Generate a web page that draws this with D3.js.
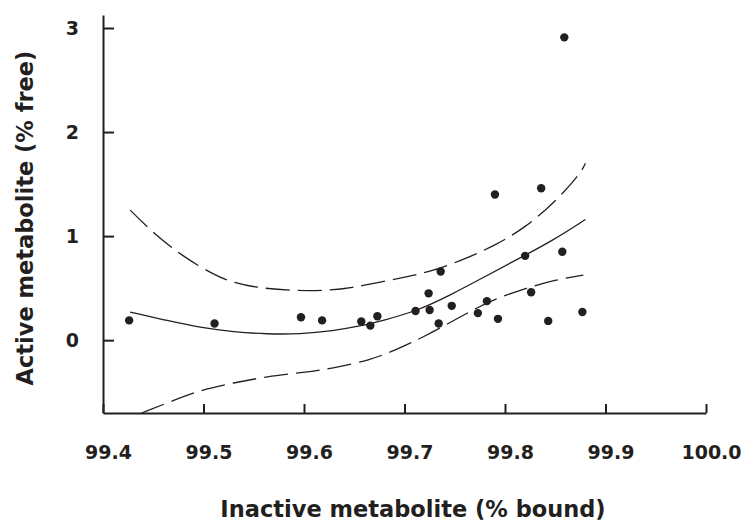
<!DOCTYPE html>
<html>
<head>
<meta charset="utf-8">
<script src="https://cdn.jsdelivr.net/npm/d3@7"></script>
<style>
    body { margin: 0; background: #fff; }
    text { font-family: "DejaVu Sans", sans-serif; font-weight: bold; fill: #231f20; }
</style>
</head>
<body>
<div id="container"><svg></svg></div>
<script>
let width = 741, height = 524;

// scatter points: inactive metabolite (% bound) vs active metabolite (% free)
let pointX = [99.426, 99.511, 99.597, 99.618, 99.657, 99.666, 99.673, 99.711, 99.724, 99.725, 99.734, 99.736,
              99.747, 99.773, 99.782, 99.793, 99.790, 99.820, 99.826, 99.836, 99.843, 99.857, 99.859, 99.877];
let pointY = [0.19, 0.16, 0.22, 0.19, 0.18, 0.14, 0.23, 0.28, 0.45, 0.29, 0.16, 0.66,
              0.33, 0.26, 0.375, 0.205, 1.40, 0.81, 0.46, 1.46, 0.185, 0.85, 2.91, 0.27];

// fitted curve and the two dashed bands
let fitX = [99.427, 99.463, 99.497, 99.53, 99.563, 99.596, 99.629, 99.656, 99.679, 99.712, 99.745, 99.778, 99.811, 99.848, 99.88];
let fitY = [0.27, 0.19, 0.12, 0.08, 0.058, 0.058, 0.09, 0.135, 0.19, 0.28, 0.43, 0.60, 0.77, 0.96, 1.16];

let upperX = [99.427, 99.45, 99.48, 99.51, 99.53, 99.556, 99.59, 99.62, 99.646, 99.685, 99.724, 99.759, 99.79, 99.82, 99.85, 99.875, 99.88];
let upperY = [1.25, 1.03, 0.80, 0.63, 0.55, 0.50, 0.475, 0.475, 0.50, 0.575, 0.65, 0.775, 0.91, 1.08, 1.33, 1.60, 1.70];

let lowerX = [99.4385, 99.47, 99.4965, 99.53, 99.563, 99.60, 99.629, 99.666, 99.69, 99.719, 99.755, 99.785, 99.821, 99.85, 99.878];
let lowerY = [-0.70, -0.58, -0.48, -0.41, -0.35, -0.31, -0.27, -0.19, -0.10, 0.03, 0.22, 0.38, 0.50, 0.58, 0.625];

let xTicks = [99.4, 99.5, 99.6, 99.7, 99.8, 99.9, 100.0];
let yTicks = [0, 1, 2, 3];

let xTitle = 'Inactive metabolite (% bound)';
let yTitle = 'Active metabolite (% free)';

let ink = '#231f20';

function zip(xs, ys) {
    return xs.map((d, i) => [d, ys[i]]);
}

function draw_chart() {
    let svg = d3.select('#container').select('svg')
        .attr('width', width)
        .attr('height', height);

    let x = d3.scaleLinear().domain([99.4, 100.0]).range([103, 706]);
    let y = d3.scaleLinear().domain([-0.7, 3.125]).range([413, 15]);

    // axes
    let xAxis = svg.append('g')
        .attr('transform', 'translate(0,' + y(-0.7) + ')')
        .call(d3.axisBottom(x).tickValues(xTicks).tickFormat(d3.format('.1f'))
            .tickSizeInner(-9).tickSizeOuter(0).tickPadding(33));
    let yAxis = svg.append('g')
        .attr('transform', 'translate(' + x(99.4) + ',0)')
        .call(d3.axisLeft(y).tickValues(yTicks).tickFormat(d3.format('d'))
            .tickSizeInner(-11).tickSizeOuter(0).tickPadding(24));

    [xAxis, yAxis].forEach(a => {
        a.select('.domain').attr('stroke', ink).attr('stroke-width', 2);
        a.selectAll('.tick line').attr('stroke', ink).attr('stroke-width', 2);
        a.selectAll('.tick text')
            .attr('fill', ink)
            .style('font-size', '19px')
            .style('font-family', '"DejaVu Sans", sans-serif')
            .style('font-weight', 'bold');
    });
    xAxis.selectAll('.tick text').attr('dx', 5);

    // curves
    let line = d3.line()
        .x(d => x(d[0]))
        .y(d => y(d[1]))
        .curve(d3.curveBasis);

    svg.append('path')
        .attr('d', line(zip(fitX, fitY)))
        .attr('fill', 'none')
        .attr('stroke', ink)
        .attr('stroke-width', 1.3);

    svg.append('g')
        .selectAll('path')
        .data([zip(upperX, upperY), zip(lowerX, lowerY)])
        .join('path')
        .attr('d', line)
        .attr('fill', 'none')
        .attr('stroke', ink)
        .attr('stroke-width', 1.3)
        .attr('stroke-dasharray', '24,8');

    // points
    svg.append('g')
        .selectAll('circle')
        .data(zip(pointX, pointY))
        .join('circle')
        .attr('cx', d => x(d[0]))
        .attr('cy', d => y(d[1]))
        .attr('r', 4.2)
        .attr('fill', ink);

    // titles
    svg.append('text')
        .attr('x', 413)
        .attr('y', 517)
        .attr('text-anchor', 'middle')
        .style('font-size', '22.5px')
        .text(xTitle);

    svg.append('text')
        .attr('transform', 'translate(33,218) rotate(-90)')
        .attr('text-anchor', 'middle')
        .style('font-size', '22.5px')
        .text(yTitle);
}

draw_chart();
</script>
</body>
</html>
